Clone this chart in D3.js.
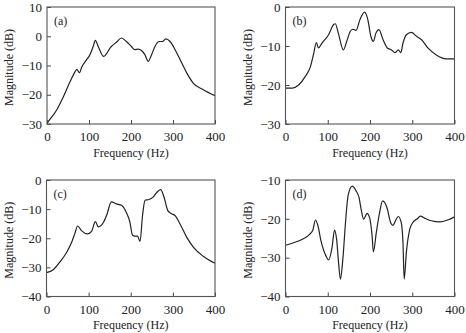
<!DOCTYPE html>
<html>
<head>
<meta charset="utf-8">
<script src="https://cdn.jsdelivr.net/npm/d3@7"></script>
<style>
  body { margin: 0; background: #fff; }
  svg { display: block; }
  text { font-family: "Liberation Serif", "DejaVu Serif", serif; fill: #222; }
</style>
</head>
<body>
<svg id="chart" width="466" height="333"></svg>
<script>
// Frequency axis shared by all panels
const xTicks = [0, 100, 200, 300, 400];

// Panel (a)
const freqA = [0, 3, 23, 39, 55, 67, 71, 77, 83, 94, 102, 110, 115, 122, 135, 153, 165, 177, 189, 201, 209, 217, 225, 233, 241, 249, 257, 267, 275, 283, 293, 305, 317, 333, 348, 372, 400];
const magA = [-29.8, -29.2, -25.2, -20.7, -15.5, -12.1, -11.3, -12.5, -10.4, -8.1, -6.4, -3.5, -1.4, -3.5, -6.9, -3.5, -2.1, -0.6, -1.8, -3.5, -4.6, -4.4, -4.9, -6.3, -8.6, -6.3, -3.5, -1.8, -1.8, -0.9, -1.8, -4.6, -8, -12.6, -16, -18.3, -20.3];
const yTicksA = [10, 0, -10, -20, -30];

// Panel (b)
const freqB = [0, 16, 31, 47, 59, 67, 73, 78, 86, 102, 114, 118, 125, 137, 145, 153, 159, 167, 176, 187, 195, 202, 208, 214, 221, 231, 241, 251, 259, 267, 273, 278, 286, 298, 310, 322, 337, 357, 380, 400];
const magB = [-20.8, -20.8, -20, -17.8, -15.3, -11.8, -9.1, -10.5, -9.3, -7.1, -4.5, -4.3, -6.7, -11, -8.8, -6.3, -5.7, -6, -3.3, -1.3, -3.3, -7.5, -8.8, -6.7, -5.8, -8.4, -10.5, -11, -11.7, -11, -11.7, -9.3, -7.1, -6.5, -7.5, -8.4, -10.5, -12.3, -13.3, -13.3];
const yTicksB = [0, -10, -20, -30];

// Panel (c)
const freqC = [0, 16, 32, 48, 60, 67, 74, 83, 97, 107, 116, 123, 135, 143, 154, 166, 178, 190, 198, 204, 210, 216, 222, 228, 234, 243, 253, 261, 271, 279, 288, 297, 305, 317, 333, 349, 372, 400];
const magC = [-31.8, -30.8, -28.1, -24.8, -21.3, -18.5, -15.8, -17.4, -18.5, -17.6, -14.3, -16.1, -14.6, -12, -7.5, -8.2, -8.7, -11.3, -14.5, -18.9, -19.3, -19.3, -21.1, -12.2, -6.9, -6.7, -5.9, -4.4, -3.3, -5.9, -10.5, -11.6, -12.2, -15.1, -19.7, -23.1, -26.2, -28.6];
const yTicksC = [0, -10, -20, -30, -40];

// Panel (d)
const freqD = [0, 21, 41, 57, 65, 71, 77, 84, 96, 102, 110, 116, 121, 126, 130, 136, 142, 148, 158, 167, 174, 179, 185, 193, 199, 205, 208, 215, 222, 230, 240, 249, 254, 262, 267, 274, 278, 281, 286, 294, 301, 313, 319, 331, 345, 365, 384, 400];
const magD = [-26.8, -26.1, -25.2, -24, -22.8, -20.3, -21.9, -25.7, -29.6, -30.6, -27.5, -22.9, -25.3, -31.8, -35.5, -30, -21, -14.1, -11.6, -12.8, -14.5, -17.5, -20.1, -18.6, -19.7, -24.4, -28.5, -23.5, -18.8, -15.4, -17.1, -21, -21.7, -20.1, -19.4, -21, -26.1, -35.5, -28.7, -22.7, -21, -19.9, -19.3, -19.9, -20.5, -20.8, -20.3, -19.5];
const yTicksD = [-10, -20, -30, -40];

const svg = d3.select("#chart");

// one entry per panel: frame box in pixels plus its data
const panels = [
  { label: "(a)", freq: freqA, mag: magA, yTicks: yTicksA, left: 47, right: 215, top: 7, bottom: 124 },
  { label: "(b)", freq: freqB, mag: magB, yTicks: yTicksB, left: 285.5, right: 454.5, top: 7, bottom: 124 },
  { label: "(c)", freq: freqC, mag: magC, yTicks: yTicksC, left: 46.5, right: 215, top: 180, bottom: 296.5 },
  { label: "(d)", freq: freqD, mag: magD, yTicks: yTicksD, left: 285.5, right: 454.5, top: 180, bottom: 296.5 },
];

panels.forEach((p) => {
  const x = d3.scaleLinear().domain([0, 400]).range([p.left, p.right]);
  const y = d3
    .scaleLinear()
    .domain(d3.extent(p.yTicks))
    .range([p.bottom, p.top]);

  const g = svg.append("g");

  // curve
  const line = d3
    .line()
    .x((d) => x(d[0]))
    .y((d) => y(d[1]))
    .curve(d3.curveMonotoneX);

  g.append("path")
    .datum(p.freq.map((f, i) => [f, p.mag[i]]))
    .attr("d", line)
    .attr("fill", "none")
    .attr("stroke", "#222")
    .attr("stroke-width", 1.2)
    .attr("stroke-linejoin", "round");

  // x axis (ticks pointing in)
  const xAxis = g
    .append("g")
    .attr("transform", `translate(0,${p.bottom})`)
    .call(d3.axisBottom(x).tickValues(xTicks).tickSizeInner(-4).tickSizeOuter(0).tickPadding(9));

  // y axis (ticks pointing in)
  const yAxis = g
    .append("g")
    .attr("transform", `translate(${p.left},0)`)
    .call(d3.axisLeft(y).tickValues(p.yTicks).tickSizeInner(-4).tickSizeOuter(0).tickPadding(5));

  [xAxis, yAxis].forEach((ax) => {
    ax.select(".domain").remove();
    ax.selectAll("line").attr("stroke", "#444");
    ax.selectAll("text")
      .attr("font-family", "Liberation Serif, serif")
      .attr("font-size", 13)
      .attr("fill", "#222");
  });
  xAxis.selectAll("text").attr("dy", "0.71em").attr("y", 8);

  // frame
  g.append("rect")
    .attr("x", p.left)
    .attr("y", p.top)
    .attr("width", p.right - p.left)
    .attr("height", p.bottom - p.top)
    .attr("fill", "none")
    .attr("stroke", "#555")
    .attr("stroke-width", 1.1);

  // panel label
  g.append("text")
    .attr("x", p.left + 7)
    .attr("y", p.top + 18)
    .attr("font-size", 12)
    .text(p.label);

  // axis titles
  g.append("text")
    .attr("x", (p.left + p.right) / 2)
    .attr("y", p.bottom + 32.5)
    .attr("text-anchor", "middle")
    .attr("font-size", 12)
    .text("Frequency (Hz)");

  g.append("text")
    .attr("transform", `translate(${p.left - 34},${(p.top + p.bottom) / 2 + 2}) rotate(-90)`)
    .attr("text-anchor", "middle")
    .attr("font-size", 12)
    .text("Magnitude (dB)");
});
</script>
</body>
</html>
